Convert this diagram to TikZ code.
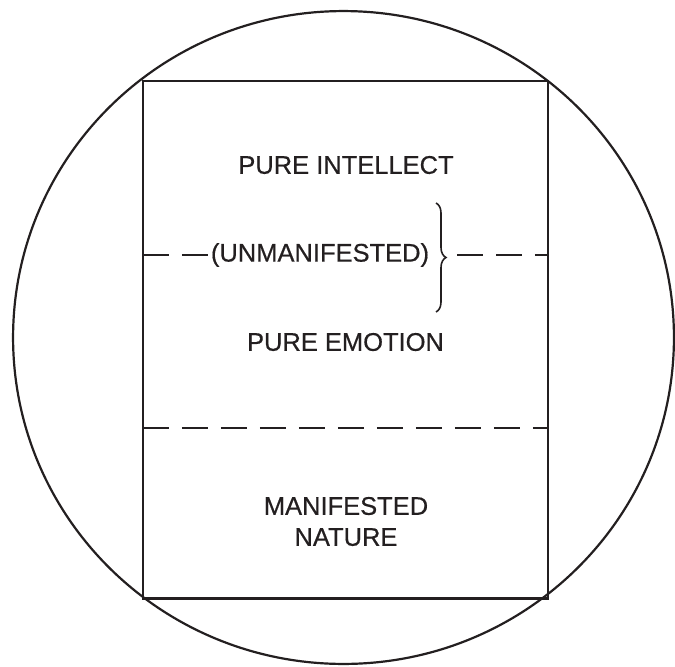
\documentclass[tikz,border=0pt]{standalone}
\usepackage{fontspec}
\setmainfont{Liberation Sans}
\newfontfamily\medfont{Liberation Sans}[FakeBold=0.5]
\usepackage{tikz}
\usetikzlibrary{positioning,decorations.pathreplacing}
\definecolor{cInk}{HTML}{231F20}
\tikzset{
  outline/.style = {draw=cInk, line width=1.25pt},
  frame/.style   = {rectangle, draw=cInk, line width=1.25pt, inner sep=0pt,
                    minimum width=8.1cm, minimum height=10.35cm},
  divider/.style = {draw=cInk, line width=1.25pt, dash pattern=on 0.52cm off 0.26cm},
  txt/.style     = {font=\medfont\fontsize{0.51cm}{0.62cm}\selectfont, text=cInk,
                    align=center, inner sep=0pt},
  curly/.style   = {draw=cInk, line width=0.9pt, decorate,
                    decoration={brace, amplitude=0.2cm}},
}

\begin{document}
\begin{tikzpicture}[x=0.02cm, y=-0.02cm]
  \useasboundingbox (0,0) rectangle (675,666);

  % outer circle and frame
  \draw[outline] (343.5,337.5) ellipse [x radius=6.61cm, y radius=6.53cm];
  \node[frame] (box) at (345.5,339.75) {};

  % texts
  \node[txt] (intellect) at (346,165) {PURE INTELLECT};
  \node[txt] (unmanifested) at (320,255) {(UNMANIFESTED)};
  \node[txt] (emotion) at (345.5,342) {PURE EMOTION};
  \node[txt] (nature) at (346,521.5) {MANIFESTED\\NATURE};

  % dividers
  \coordinate (upL) at (143,255);
  \coordinate (upM) at (457,255);
  \coordinate (upR) at (548,255);
  \coordinate (lowL) at (143,428.3);
  \coordinate (lowR) at (548,428.3);
  \draw[divider] (upL) -- (unmanifested.west);
  \draw[divider] (upM) -- (upR);
  \draw[divider] (lowL) -- (lowR);

  % brace
  \coordinate (braceT) at (436,203);
  \coordinate (braceB) at (436,312);
  \draw[curly] (braceT) -- (braceB);
\end{tikzpicture}
\end{document}
